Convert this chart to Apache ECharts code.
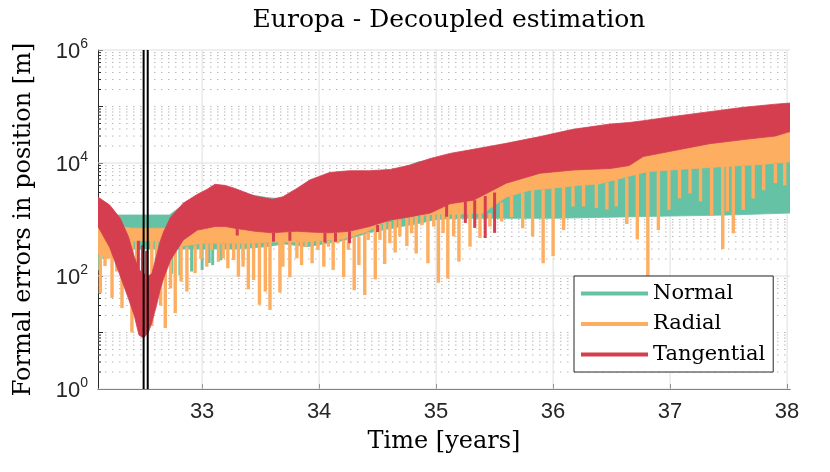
<!DOCTYPE html>
<html><head><meta charset="utf-8">
<script src="https://cdn.jsdelivr.net/npm/echarts@6/dist/echarts.min.js"></script>
<style>html,body{margin:0;padding:0;background:#fff}#c{width:830px;height:472px}</style>
</head><body><div id="c"></div>
<script>
// ---------- axes ----------
const xRange = [32.11, 38.025];
const yRange = [1, 1e6];
const xTicks = [33, 34, 35, 36, 37, 38];
const yMajorGrid = [1, 100, 1e4, 1e6];
const markerTimes = [32.50, 32.535];

// ---------- Tangential (red) band: time, upper edge, lower edge ----------
const tanX = [32.11,32.21,32.30,32.37,32.42,32.46,32.50,32.54,32.57,32.61,32.64,32.67,32.73,32.79,32.84,32.96,33.04,33.11,33.20,33.28,33.45,33.60,33.69,33.81,33.92,34.09,34.26,34.43,34.61,34.78,34.95,35.12,35.32,35.60,35.89,36.17,36.49,36.65,36.77,37.06,37.34,37.63,37.90,38.025];
const tanUpper = [2500,1800,1050,500,220,130,110,100,110,230,400,600,1100,1500,1950,2800,3400,4200,4000,3550,2600,2280,2530,3550,5000,6800,7300,7300,7700,9200,12000,14800,17500,22300,29400,39500,49000,52000,56000,68000,81000,97000,110000,115000];
const tanLower = [750,320,100,40,20,9,8,10,15,30,56,90,190,300,435,650,700,750,750,700,620,580,600,620,600,580,620,750,980,1120,1300,1900,2200,4400,6600,7500,8000,9000,13000,17000,22000,26000,30000,36000];
// spikes: [time, from, to]
const tanSpikes = [[32.455,60,420],[32.49,60,350],[32.525,60,280],[33.30,700,520],[33.61,580,405],[33.75,600,420],[34.05,580,390],[34.14,580,405],[34.26,620,380],[34.50,800,600],[35.09,1900,1120],[35.25,2100,870],[35.33,2200,710],[35.42,2600,470],[35.50,3000,580]];

// ---------- Radial (orange) band ----------
const radX = [32.11,32.20,32.30,32.40,32.47,32.53,32.60,32.70,32.80,33.00,33.20,33.40,33.60,33.80,34.00,34.20,34.40,34.60,34.80,35.00,35.20,35.40,35.60,35.80,36.00,36.20,36.40,36.60,36.80,37.00,37.20,37.40,37.60,37.80,38.025];
const radUpper = [800,800,750,700,700,700,700,700,800,1000,1000,900,800,900,900,900,1100,1400,1700,2200,2800,3500,6000,8500,10000,11000,12000,15000,19000,23000,26000,30000,34000,38000,45000];
const radLower = [250,200,280,420,420,420,420,380,330,380,380,380,400,400,420,450,600,1000,1150,1250,1250,1300,2500,3300,3600,4000,4300,5500,7000,7500,8000,8500,9000,9500,10500];
const radSpikes = [[32.13,300,50],[32.17,300,150],[32.23,300,41],[32.27,300,120],[32.315,300,27],[32.36,400,80],[32.40,450,10],[32.44,450,20],[32.57,450,13],[32.61,450,40],[32.645,450,30],[32.685,450,12],[32.73,400,60],[32.77,350,22],[32.82,330,80],[32.87,330,53],[32.94,350,112],[32.99,380,200],
  [33.04,380,146],[33.08,380,290],[33.14,380,179],[33.18,380,205],[33.22,380,137],[33.27,380,192],[33.31,380,97],[33.35,380,146],[33.395,380,58],[33.44,380,85],[33.49,380,31],[33.54,380,53],[33.58,400,25],[33.665,400,51],[33.69,400,146],[33.75,400,95],[33.81,400,205],[33.85,400,156],[33.89,400,330],[33.94,420,168],[33.99,420,290],[34.04,420,146],[34.08,420,330],[34.12,430,128],[34.16,440,380],[34.21,440,95],[34.25,450,290],[34.30,500,56],[34.34,500,156],[34.39,550,46],[34.42,600,435],[34.48,700,87],[34.52,800,435],[34.56,900,163],[34.605,900,380],[34.65,1000,260],[34.69,1000,500],[34.75,1100,340],[34.79,1100,570],[34.83,1150,250],[34.88,1200,800],[34.93,1200,168],[34.98,1250,750],[35.02,1250,76],
  [35.06,1250,575],[35.10,1250,90],[35.15,1250,500],[35.195,1300,180],[35.29,1300,330],[35.375,1300,470],[35.46,1300,750],[35.56,2000,920],[35.645,2600,1100],[35.74,3000,700],[35.825,3300,500],[35.915,3400,168],[36.00,3600,225],[36.09,3800,650],[36.17,4000,1700],[36.26,4100,1700],[36.37,4300,1600],[36.46,4500,1500],[36.54,5000,1700],[36.63,5500,830],[36.72,6500,445],[36.81,7000,100],[36.90,7200,650],[36.99,7500,1480],[37.08,7700,2360],[37.17,7900,2900],[37.26,8100,2100],[37.355,8500,1200],[37.45,8700,300],[37.49,8800,1380],[37.54,9000,570],[37.625,9000,1480],[37.71,9300,2360],[37.80,9500,3300],[37.90,9800,4400],[37.98,10300,4000]];

// ---------- Normal (green) band ----------
const norX = [32.11,32.30,32.45,32.72,32.80,33.00,33.30,33.55,33.70,33.90,34.20,34.45,34.70,34.85,35.00,35.20,35.60,36.00,36.50,37.00,37.50,38.025];
const norUpper = [1200,1200,1200,1200,1600,2800,3000,2450,2300,4200,6000,6300,8000,10500,11500,13000,19000,28000,42000,58000,78000,98000];
const norLower = [300,300,300,300,300,300,300,330,370,330,420,600,750,850,1000,1050,1050,1050,1100,1150,1200,1300];
const norSpikes = [[32.11,300,127],[32.16,300,200],[32.27,300,133],[32.62,300,150],[32.74,300,110],[32.81,300,104],[32.91,300,120],[33.00,300,128],[33.06,300,170],[33.09,300,156],[33.16,300,190],[33.35,300,200]];

const names = ['Normal', 'Radial', 'Tangential'];
const colors = ['#66c2a5', '#fdae61', '#d53e4f'];

// minor (dotted) grid positions of the log axis
const minorY = [];
for (let k = 0; k < 6; k++) {
  for (let m = 2; m <= 9; m++) minorY.push(m * Math.pow(10, k));
  if (k % 2 === 0) minorY.push(Math.pow(10, k + 1));
}

function layerSeries(name, color, xs, up, lo, spikes, spikeWidth) {
  return {
    type: 'custom', name: name, clip: true, z: 3,
    itemStyle: { color: color },
    data: xs.map((x, i) => [x, up[i], lo[i]]),
    encode: { x: 0, y: [1, 2] },
    renderItem: function (params, api) {
      if (params.dataIndex !== 0) return null;
      const pts = [];
      for (let i = 0; i < xs.length; i++) pts.push(api.coord([xs[i], up[i]]));
      for (let i = xs.length - 1; i >= 0; i--) pts.push(api.coord([xs[i], lo[i]]));
      const children = [{ type: 'polygon', shape: { points: pts },
        style: { fill: color, stroke: color, lineWidth: 0.8 } }];
      spikes.forEach(function (s) {
        const a = api.coord([s[0], s[1]]), b = api.coord([s[0], s[2]]);
        children.push({ type: 'rect',
          shape: { x: a[0] - spikeWidth / 2, y: a[1], width: spikeWidth, height: b[1] - a[1] },
          style: { fill: color } });
      });
      return { type: 'group', children: children };
    }
  };
}

const chart = echarts.init(document.getElementById('c'), null, { renderer: 'canvas' });
const option = {
  backgroundColor: '#ffffff',
  animation: false,
  title: {
    text: 'Europa - Decoupled estimation', left: 444, top: 3, textAlign: 'center',
    textStyle: { fontFamily: 'DejaVu Serif', fontWeight: 'normal', fontSize: 25, color: '#000' }
  },
  grid: { left: 98, right: 40, top: 50, bottom: 83 },
  legend: {
    orient: 'vertical', left: 574, top: 276, selectedMode: false,
    backgroundColor: '#ffffff', borderColor: '#262626', borderWidth: 1, borderRadius: 0,
    padding: [7, 8, 7, 7], itemGap: 9.5, itemWidth: 67, itemHeight: 4,
    textStyle: { fontFamily: 'DejaVu Serif', fontSize: 21, color: '#000', lineHeight: 21 },
    data: names.map((n, i) => ({ name: n, icon: 'rect', itemStyle: { color: colors[i] } }))
  },
  xAxis: {
    type: 'value', min: xRange[0], max: xRange[1],
    name: 'Time [years]', nameLocation: 'middle', nameGap: 41,
    nameTextStyle: { fontFamily: 'DejaVu Serif', fontSize: 24, color: '#000' },
    axisLine: { lineStyle: { color: '#262626', width: 1 } },
    axisTick: { inside: true, length: 5, customValues: xTicks, lineStyle: { color: '#262626' } },
    axisLabel: { customValues: xTicks, margin: 12, fontFamily: 'Liberation Sans', fontSize: 22, color: '#262626' },
    splitLine: { show: false }
  },
  yAxis: {
    type: 'log', logBase: 10, min: yRange[0], max: yRange[1],
    name: 'Formal errors in position [m]', nameLocation: 'middle', nameGap: 62,
    nameTextStyle: { fontFamily: 'DejaVu Serif', fontSize: 24, color: '#000' },
    axisLine: { show: true, lineStyle: { color: '#262626', width: 1 } },
    axisTick: { inside: true, length: 5, lineStyle: { color: '#262626' } },
    axisLabel: {
      margin: 10, color: '#262626',
      formatter: function (v) {
        const e = Math.round(Math.log10(v));
        return e % 2 === 0 ? '{b|10}{s|' + e + '}' : '';
      },
      rich: {
        b: { fontFamily: 'Liberation Sans', fontSize: 22, lineHeight: 26, verticalAlign: 'bottom', color: '#262626' },
        s: { fontFamily: 'Liberation Sans', fontSize: 14, lineHeight: 14, verticalAlign: 'top', color: '#262626' }
      }
    },
    splitLine: { show: false }
  },
  series: [
    { // dotted minor grid + minor ticks
      type: 'custom', name: 'minorGrid', silent: true, z: 1,
      data: minorY.map(v => [xRange[0], v]),
      encode: { x: 0, y: 1 },
      renderItem: function (params, api) {
        const cs = params.coordSys;
        const p = api.coord([xRange[0], api.value(1)]);
        return { type: 'group', children: [
          { type: 'line', shape: { x1: cs.x, y1: p[1], x2: cs.x + cs.width, y2: p[1] },
            style: { stroke: '#b8b8b8', lineWidth: 1, lineDash: [1.5, 5.5] } },
          { type: 'line', shape: { x1: cs.x, y1: p[1], x2: cs.x + 3, y2: p[1] },
            style: { stroke: '#262626', lineWidth: 1 } }
        ] };
      }
    },
    { // major horizontal grid
      type: 'custom', name: 'majorGridY', silent: true, z: 1,
      data: yMajorGrid.map(v => [xRange[0], v]),
      encode: { x: 0, y: 1 },
      renderItem: function (params, api) {
        const cs = params.coordSys;
        const p = api.coord([xRange[0], api.value(1)]);
        return { type: 'line', shape: { x1: cs.x, y1: p[1], x2: cs.x + cs.width, y2: p[1] },
          style: { stroke: '#dedede', lineWidth: 1 } };
      }
    },
    { // major vertical grid
      type: 'custom', name: 'majorGridX', silent: true, z: 1,
      data: xTicks.map(t => [t, yRange[0]]),
      encode: { x: 0, y: 1 },
      renderItem: function (params, api) {
        const cs = params.coordSys;
        const p = api.coord([api.value(0), yRange[0]]);
        return { type: 'line', shape: { x1: p[0], y1: cs.y, x2: p[0], y2: cs.y + cs.height },
          style: { stroke: '#dedede', lineWidth: 1 } };
      }
    },
    layerSeries('Normal', colors[0], norX, norUpper, norLower, norSpikes, 3),
    layerSeries('Radial', colors[1], radX, radUpper, radLower, radSpikes, 3.4),
    layerSeries('Tangential', colors[2], tanX, tanUpper, tanLower, tanSpikes, 3),
    { // event markers
      type: 'custom', name: 'markers', silent: true, z: 4,
      data: markerTimes.map(t => [t, yRange[0]]),
      encode: { x: 0, y: 1 },
      renderItem: function (params, api) {
        const cs = params.coordSys;
        const p = api.coord([api.value(0), yRange[0]]);
        return { type: 'line', shape: { x1: p[0], y1: cs.y, x2: p[0], y2: cs.y + cs.height },
          style: { stroke: '#000', lineWidth: 2 } };
      }
    }
  ]
};
chart.setOption(option);
</script></body></html>
